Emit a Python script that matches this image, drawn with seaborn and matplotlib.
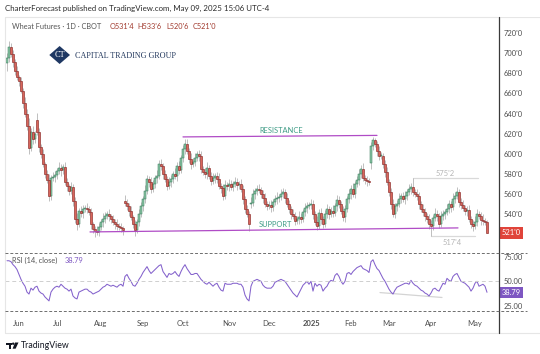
import numpy as np
import pandas as pd
import matplotlib
matplotlib.use("Agg")
import matplotlib.pyplot as plt
import matplotlib.transforms as mtrans
from matplotlib.patches import Polygon, Rectangle, Circle
import seaborn as sns

# Wheat futures (CBOT, continuous), daily bars, late May 2024 -> 09 May 2025
closes = [
    695, 706, 699, 691, 682, 676, 672, 662, 650, 640,
    628, 606, 622, 615, 620, 622, 607, 600, 590, 580,
    574, 558, 576, 577, 579, 583, 586, 584, 587, 572,
    568, 563, 567, 553, 535, 530, 543, 541, 545, 546,
    545, 542, 530, 525, 523, 522, 527, 532, 535, 538,
    540, 538, 535, 532, 530, 528, 527, 526, 524, 551,
    548, 543, 537, 530, 524, 532, 540, 548, 555, 563,
    575, 572, 565, 570, 576, 578, 590, 588, 580, 575,
    568, 572, 575, 580, 578, 588, 584, 596, 605, 610,
    603, 595, 590, 592, 596, 600, 598, 585, 582, 580,
    586, 578, 573, 576, 578, 575, 568, 566, 558, 569,
    568, 570, 567, 570, 572, 569, 570, 565, 555, 545,
    540, 530, 551, 560, 563, 565, 564, 560, 556, 550,
    548, 549, 547, 552, 555, 556, 557, 560, 562, 556,
    550, 545, 540, 538, 533, 535, 537, 535, 542, 546,
    548, 549, 550, 540, 532, 528, 541, 535, 530, 540,
    545, 540, 543, 541, 548, 554, 550, 543, 537, 545,
    555, 560, 565, 560, 570, 574, 580, 585, 576, 574,
    573, 572, 608, 614, 610, 603, 598, 598, 590, 582,
    572, 562, 550, 540, 548, 550, 555, 558, 555, 558,
    562, 565, 567, 562, 560, 558, 550, 545, 542, 538,
    535, 530, 528, 536, 540, 538, 530, 538, 540, 542,
    545, 550, 547, 555, 558, 562, 552, 549, 546, 543,
    544, 535, 530, 528, 532, 540, 538, 534, 533, 531.5, 521,
]
up_wick = [
    5, 6, 4, 4, 3, 5, 2, 4, 3, 6,
    5, 8, 4, 6, 3, 7, 4, 3, 5, 2,
    4, 6, 3, 5, 4, 3, 6, 4, 3, 5,
    4, 2, 5, 3, 4, 6, 3, 5, 4, 3,
    5, 3, 4, 2, 3, 5, 4, 3, 6, 4,
    3, 5, 2, 4, 3, 5, 3, 4, 2, 6,
    4, 3, 5, 2, 4, 3, 5, 4, 3, 6,
    4, 3, 5, 4, 3, 6, 4, 5, 3, 4,
    3, 5, 4, 3, 6, 4, 5, 3, 4, 5,
    5, 3, 6, 4, 5, 3, 4, 5, 3, 4,
    6, 3, 4, 5, 3, 4, 6, 3, 4, 5,
    3, 5, 4, 3, 5, 4, 3, 5, 4, 3,
    4, 3, 6, 5, 3, 4, 5, 3, 4, 5,
    3, 4, 5, 3, 4, 6, 3, 5, 4, 3,
    5, 4, 3, 5, 4, 3, 6, 4, 3, 5,
    4, 3, 5, 4, 3, 6, 4, 5, 3, 4,
    5, 3, 4, 6, 3, 5, 4, 3, 5, 4,
    3, 5, 4, 6, 3, 4, 5, 4, 6, 3,
    4, 3, 4, 3, 2, 3, 5, 4, 3, 4,
    5, 3, 4, 5, 3, 4, 6, 3, 4, 5,
    3, 5, 4, 8.25, 3, 5, 4, 3, 5, 4,
    3, 5, 4, 3, 6, 4, 3, 5, 4, 3,
    5, 4, 3, 6, 4, 5, 3, 4, 5, 3,
    4, 5, 3, 4, 6, 5, 3, 4, 6, 3, 2.25,
]
dn_wick = [
    8, 4, 3, 5, 4, 3, 5, 2, 4, 3,
    4, 6, 3, 5, 4, 3, 5, 4, 3, 4,
    3, 5, 4, 3, 5, 4, 3, 6, 4, 3,
    5, 4, 3, 5, 4, 6, 3, 4, 5, 3,
    4, 3, 5, 4, 6, 3, 4, 3, 5, 4,
    3, 5, 4, 3, 5, 4, 3, 4, 5, 3,
    4, 5, 3, 4, 6, 3, 4, 3, 5, 4,
    3, 5, 4, 3, 4, 5, 3, 4, 5, 3,
    4, 3, 5, 4, 3, 5, 4, 3, 4, 5,
    3, 4, 5, 3, 4, 3, 5, 4, 3, 4,
    5, 3, 4, 3, 5, 4, 3, 5, 4, 3,
    4, 5, 3, 4, 3, 5, 4, 3, 5, 4,
    3, 7, 4, 3, 5, 4, 3, 4, 5, 3,
    4, 3, 5, 4, 3, 5, 4, 3, 4, 5,
    3, 4, 5, 3, 4, 3, 5, 4, 3, 4,
    5, 3, 4, 5, 3, 4, 3, 5, 4, 3,
    4, 5, 3, 4, 3, 5, 4, 3, 4, 5,
    3, 4, 5, 3, 4, 3, 5, 4, 3, 4,
    5, 3, 6, 4, 3, 5, 4, 3, 4, 5,
    3, 4, 5, 3, 4, 5, 3, 4, 3, 5,
    4, 3, 5, 4, 3, 4, 5, 3, 4, 5,
    4, 5, 10.5, 4, 3, 5, 4, 3, 4, 5,
    3, 4, 5, 3, 4, 3, 5, 4, 3, 4,
    5, 3, 4, 5, 3, 4, 3, 5, 4, 3, 0.25,
]
first_open = 690
roll_opens = {15: 634, 59: 553, 122: 550, 182: 591}   # contract roll gaps

rsi = [
    71, 71, 70, 67, 65, 62, 57, 52, 48, 45,
    39, 37, 43, 41, 44, 45, 40, 38, 37, 34,
    32, 30, 39, 42, 44, 45, 44, 47, 45, 43,
    42, 40, 42, 35, 33, 32, 39, 40, 41, 42,
    42, 40, 39, 37, 38, 39, 40, 42, 44, 45,
    47, 46, 45, 46, 45, 44, 46, 47, 45, 55,
    57, 53, 50, 46, 45, 48, 52, 55, 59, 62,
    65, 61, 58, 60, 62, 64, 66, 67, 60, 57,
    54, 58, 57, 58, 60, 57, 55, 60, 64, 67,
    63, 60, 57, 57, 58, 58, 55, 52, 50, 48,
    47, 49, 47, 45, 47, 48, 44, 41, 40, 48,
    47, 47, 47, 48, 48, 48, 47, 47, 44, 36,
    32, 30, 45, 50, 51, 52, 51, 50, 46, 44,
    43, 43, 43, 45, 49, 50, 51, 52, 51, 50,
    47, 44, 41, 38, 36, 34, 38, 42, 46, 48,
    50, 47, 50, 40, 48, 45, 47, 46, 40, 43,
    45, 49, 51, 50, 56, 58, 55, 50, 47, 50,
    58, 59, 57, 60, 62, 64, 65, 66, 63, 62,
    61, 59, 70, 72, 67, 63, 61, 57, 53, 50,
    46, 42, 39, 37, 41, 44, 45, 46, 47, 48,
    48, 47, 51, 48, 46, 45, 43, 41, 40, 38,
    37, 35, 38, 42, 43, 41, 40, 44, 48, 47,
    53, 51, 50, 55, 57, 58, 54, 50, 49, 48,
    46, 44, 40, 43, 48, 50, 45, 46, 47, 45, 38.79,
]

month_pos = [6, 25, 47, 68, 88, 111, 131, 152, 172, 191, 212, 234]
month_lbl = ["Jun", "Jul", "Aug", "Sep", "Oct", "Nov", "Dec", "2025", "Feb", "Mar", "Apr", "May"]
price_ticks = [540, 560, 580, 600, 620, 640, 660, 680, 700, 720]
rsi_ticks = [25, 50, 75]

# drawn trend lines (bar index, price)
resistance = ([88, 185], [616.7, 618.2])
support = ([41.5, 225.5], [522.0, 526.0])
hi_mark = ([203, 235.5], [575.25, 575.25])
lo_mark = ([212, 234], [517.5, 517.5])
rsi_div = ([186.5, 217.5], [38.5, 33.5])


def fmt(p):
    whole = int(p)
    return f"{whole}'{int(round((p - whole) * 8))}"


df = pd.DataFrame({"close": closes, "rsi": rsi})
df["bar"] = np.arange(len(df))
df["open"] = df["close"].shift(1)
df.loc[0, "open"] = first_open
for i, o in roll_opens.items():
    df.loc[i, "open"] = o
df["high"] = df[["open", "close"]].max(axis=1) + np.array(up_wick)
df["low"] = df[["open", "close"]].min(axis=1) - np.array(dn_wick)

sns.set_theme(style="white")
plt.rcParams["font.family"] = ["Lato", "DejaVu Sans"]

W, H = 540, 354
fig = plt.figure(figsize=(W / 100, H / 100), dpi=100)
fig.patch.set_facecolor("white")


def rect(x0, y0, x1, y1):
    return [x0 / W, 1 - y1 / H, (x1 - x0) / W, (y1 - y0) / H]


ax = fig.add_axes(rect(5, 17, 499, 253.3))
ax2 = fig.add_axes(rect(5, 253.3, 499, 310.5))
for a in (ax, ax2):
    a.set_facecolor("none")
    for s in a.spines.values():
        s.set_visible(False)
    a.set_xlim(-1, 246)

# candles
up = df["close"] >= df["open"]
body = (df["close"] - df["open"]).abs().clip(lower=0.6)
ax.vlines(df["bar"], df["low"], df["high"], color="#adadad", lw=0.55, zorder=1)
ax.bar(df["bar"][up], body[up], bottom=df["open"][up], width=0.62,
       color="#8ec7a7", edgecolor="#2a7352", lw=0.35, zorder=2)
ax.bar(df["bar"][~up], body[~up], bottom=df["close"][~up], width=0.62,
       color="#d9665a", edgecolor="#7e1a1a", lw=0.4, zorder=2)
ax.set_ylim(500.7, 736.2)
ax.set_xticks([])
ax.yaxis.tick_right()
ax.set_yticks(price_ticks)
ax.set_yticklabels([fmt(p) for p in price_ticks])
ax.tick_params(axis="y", length=0, pad=3, labelsize=5.4, labelcolor="#4d4d4d")

ax.plot(*resistance, color="#b04cc6", lw=0.9, zorder=3)
ax.plot(*support, color="#b04cc6", lw=0.9, zorder=3)
ax.plot(*hi_mark, color="#d9d9d9", lw=0.9, zorder=0)
ax.plot(*lo_mark, color="#d9d9d9", lw=0.9, zorder=0)
ax.text(137, 623, "RESISTANCE", color="#3f9c86", fontsize=5.4, ha="center", va="center")
ax.text(134, 529.5, "SUPPORT", color="#3f9c86", fontsize=5.4, ha="center", va="center")
ax.text(219, 580, fmt(575.25), color="#b5b5b5", fontsize=5.4, ha="center", va="center")
ax.text(222.5, 511, fmt(517.5), color="#b5b5b5", fontsize=5.4, ha="center", va="center")

last = df.iloc[-1]
tr = mtrans.blended_transform_factory(ax.transAxes, ax.transData)
ax.text(1.006, last["close"], fmt(last["close"]), transform=tr, color="white", fontsize=5.4,
        ha="left", va="center", bbox=dict(boxstyle="square,pad=0.3", fc="#e0443a", ec="none"))

# RSI pane
sns.lineplot(data=df, x="bar", y="rsi", ax=ax2, color="#8462cc", lw=0.75)
ax2.plot(*rsi_div, color="#d4d4d4", lw=0.9, zorder=0)
ax2.axhline(50, color="#cfcfcf", lw=0.7, ls=(0, (4, 3)))
ax2.set_ylim(20.2, 78.6)
ax2.set_xlabel("")
ax2.set_ylabel("")
ax2.yaxis.tick_right()
ax2.set_yticks(rsi_ticks)
ax2.set_yticklabels([f"{v:.2f}" for v in rsi_ticks])
ax2.tick_params(axis="y", length=0, pad=3, labelsize=5.4, labelcolor="#4d4d4d")
ax2.set_xticks(month_pos)
ax2.set_xticklabels(month_lbl)
ax2.tick_params(axis="x", length=0, pad=6.5, labelsize=5.5, labelcolor="#4d4d4d")
for t in ax2.get_xticklabels():
    if t.get_text() == "2025":
        t.set_fontweight("bold")
tr2 = mtrans.blended_transform_factory(ax2.transAxes, ax2.transData)
ax2.text(1.006, rsi[-1], f"{rsi[-1]:.2f}", transform=tr2, color="white", fontsize=5.4,
         ha="left", va="center", bbox=dict(boxstyle="square,pad=0.3", fc="#7e57c2", ec="none"))

# overlay in pixel coordinates for the frame, headers and logos
ov = fig.add_axes([0, 0, 1, 1], zorder=5)
ov.set_xlim(0, W)
ov.set_ylim(H, 0)
ov.axis("off")

ov.plot([5, 540], [17, 17], color="#e6e6e6", lw=0.8)
ov.plot([5, 5], [17, 333], color="#e6e6e6", lw=0.8)
ov.plot([5, 540], [333, 333], color="#e6e6e6", lw=0.8)
ov.plot([499, 499], [17, 333], color="#3a3a3a", lw=0.9)
for yy in (253.3, 310.5):
    ov.plot([5, 527], [yy, yy], color="#6e6e6e", lw=0.7, ls=(0, (3, 2)))

ov.text(503, 13.2, fmt(740), fontsize=5.4, color="#4d4d4d", va="center", ha="left")
ov.add_patch(Rectangle((499.5, 0), 40, 16.6, fc="white", ec="none", zorder=6))

ov.text(5, 8.5, "CharterForecast published on TradingView.com, May 09, 2025 15:06 UTC-4",
        fontsize=5.7, color="#2a2a2a", va="center", ha="left", zorder=7)
ov.text(12, 26.5, "Wheat Futures · 1D · CBOT", fontsize=5.3, color="#555555", va="center")
for xx, key in zip([110, 137, 166, 193], ["open", "high", "low", "close"]):
    ov.text(xx, 26.5, key[0].upper() + fmt(last[key]), fontsize=5.3, color="#a13a2e", va="center")

ov.add_patch(Polygon([[49.3, 55], [59.6, 46], [70, 55], [59.6, 64]], closed=True,
                     fc="#1f3863", ec="none"))
ov.text(59.6, 55.3, "CT", fontsize=6, color="white", family="Liberation Serif",
        ha="center", va="center")
ov.text(75, 55.5, "CAPITAL TRADING GROUP", fontsize=5.9, color="#24395e",
        family="Liberation Serif", va="center", ha="left")

ov.text(12, 260.5, "RSI (14, close)", fontsize=5.3, color="#555555", va="center")
ov.text(65, 260.5, f"{rsi[-1]:.2f}", fontsize=5.3, color="#7e57c2", va="center")

# TradingView logo + word mark
ov.add_patch(Rectangle((6, 342.5), 5.5, 2.2, fc="#131722", ec="none"))
ov.add_patch(Rectangle((8.6, 342.5), 2.6, 6.2, fc="#131722", ec="none"))
ov.add_patch(Circle((13.2, 343.7), 1.2, fc="#131722", ec="none"))
ov.add_patch(Polygon([[15, 342.5], [18.5, 342.5], [15.6, 348.7], [12.6, 348.7]],
                     closed=True, fc="#131722", ec="none"))
ov.text(20.5, 345.6, "TradingView", fontsize=6.3, color="#131722", va="center", ha="left")

fig.savefig("out.png", dpi=100, facecolor="white")
